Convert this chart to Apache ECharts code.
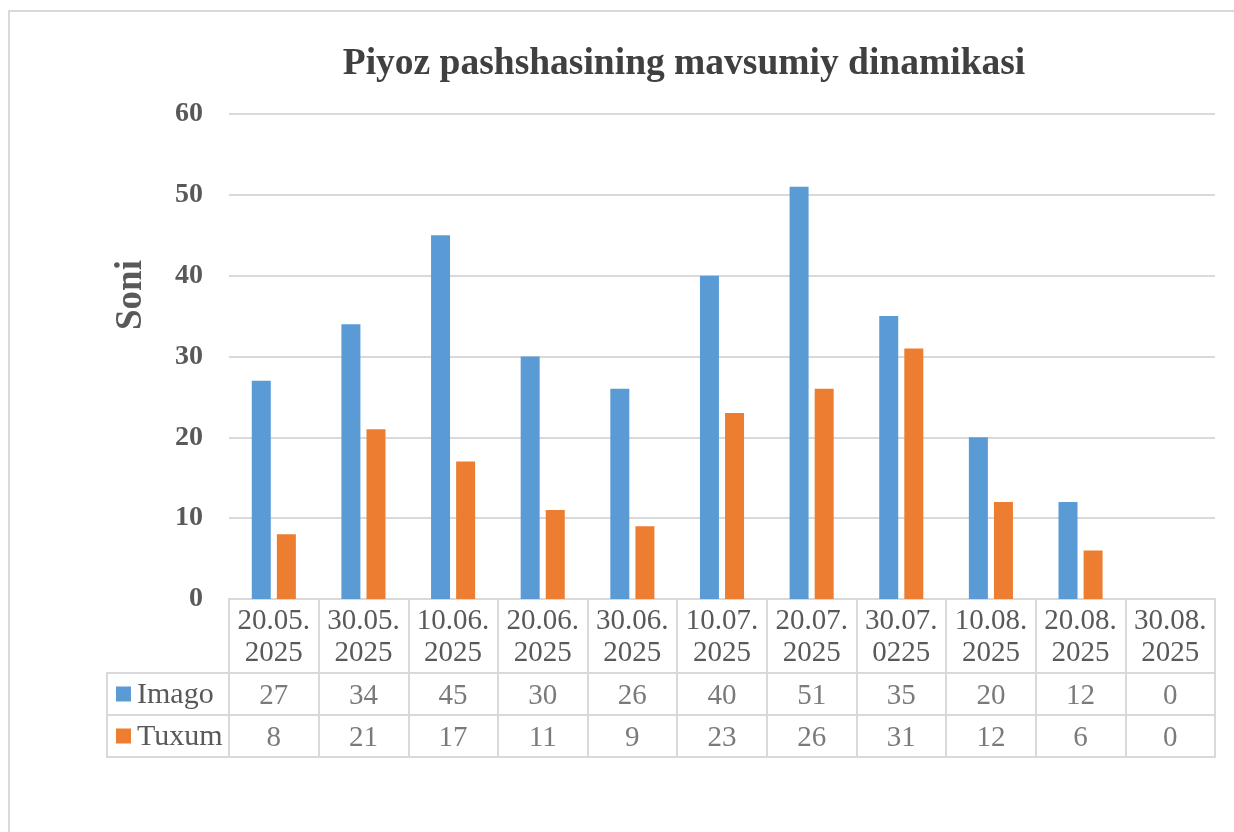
<!DOCTYPE html>
<html>
<head>
<meta charset="utf-8">
<script src="https://cdn.jsdelivr.net/npm/echarts@6/dist/echarts.min.js"></script>
<style>
  html, body { margin: 0; padding: 0; background: #fff; }
  #chart { width: 1234px; height: 832px; }
</style>
</head>
<body>
<div id="chart"></div>
<script>
// Sanalar (kategoriyalar)
const dates = [
  "20.05.\n2025", "30.05.\n2025", "10.06.\n2025", "20.06.\n2025", "30.06.\n2025",
  "10.07.\n2025", "20.07.\n2025", "30.07.\n0225", "10.08.\n2025", "20.08.\n2025", "30.08.\n2025"
];
const seriesNames = ["Imago", "Tuxum"];
const imago = [27, 34, 45, 30, 26, 40, 51, 35, 20, 12, 0];
const tuxum = [8, 21, 17, 11, 9, 23, 26, 31, 12, 6, 0];
const yTicks = [0, 10, 20, 30, 40, 50, 60];

const colors = ["#5b9bd5", "#ed7d31"];
const serif = "'Liberation Serif', 'DejaVu Serif', serif";
const lineColor = "#d9d9d9";
const textColor = "#595959";

const chart = echarts.init(document.getElementById("chart"));

// Jadval kataklari uchun nuqtalar
const tableCells = [];
imago.forEach((v, i) => tableCells.push([i, seriesNames[0], v]));
tuxum.forEach((v, i) => tableCells.push([i, seriesNames[1], v]));

const option = {
  animation: false,
  backgroundColor: "#fff",
  title: {
    text: "Piyoz pashshasining mavsumiy dinamikasi",
    left: 679,
    textAlign: "center",
    top: 40,
    textStyle: { fontFamily: serif, fontSize: 37.5, fontWeight: "bold", color: "#404040" }
  },
  graphic: [
    {
      type: "rect",
      shape: { x: 9, y: 11, width: 1260, height: 860 },
      style: { fill: "none", stroke: lineColor, lineWidth: 2 },
      silent: true
    },
    {
      // o'q nomi
      type: "text", x: 131, y: 295, rotation: Math.PI / 2,
      style: {
        text: "Soni", fontFamily: serif, fontSize: 37, fontWeight: "bold",
        fill: textColor, align: "center", verticalAlign: "middle"
      },
      silent: true
    }
  ],
  grid: [
    { left: 229, right: 19, top: 114, height: 485 },                 // asosiy grafik
    { left: 229, right: 19, top: 599, height: 74, show: true, borderColor: lineColor, borderWidth: 2 }, // sarlavha qatori
    { left: 229, right: 19, top: 673, height: 84, show: true, borderColor: lineColor, borderWidth: 2 }, // qiymatlar
    { left: 107, width: 122, top: 673, height: 84, show: true, borderColor: lineColor, borderWidth: 2 } // legenda ustuni
  ],
  xAxis: [
    {
      gridIndex: 0, type: "category", data: dates,
      axisLine: { show: false }, axisTick: { show: false }, axisLabel: { show: false }
    },
    {
      gridIndex: 1, type: "category", data: dates,
      axisLine: { show: false }, axisTick: { show: false },
      splitLine: { show: true, lineStyle: { color: lineColor, width: 2 } },
      axisLabel: {
        fontFamily: serif, fontSize: 29, color: textColor, lineHeight: 32,
        verticalAlign: "middle", margin: -36, interval: 0
      }
    },
    {
      gridIndex: 2, type: "category", data: dates,
      axisLine: { show: false }, axisTick: { show: false }, axisLabel: { show: false },
      splitLine: { show: true, lineStyle: { color: lineColor, width: 2 } }
    },
    {
      gridIndex: 3, type: "value", show: false
    }
  ],
  yAxis: [
    {
      gridIndex: 0, type: "value", min: 0, max: 60, interval: 10,
      axisLine: { show: false }, axisTick: { show: false },
      axisLabel: {
        fontFamily: serif, fontSize: 28, fontWeight: "bold", color: textColor, margin: 26,
        formatter: v => (yTicks.includes(v) ? String(v) : "")
      },
      splitLine: { lineStyle: { color: lineColor, width: 2 } }
    },
    { gridIndex: 1, type: "value", show: false },
    {
      gridIndex: 2, type: "category", data: seriesNames, inverse: true,
      axisLine: { show: false }, axisTick: { show: false }, axisLabel: { show: false },
      splitLine: { show: true, lineStyle: { color: lineColor, width: 2 } }
    },
    {
      gridIndex: 3, type: "category", data: seriesNames, inverse: true,
      axisLine: { show: false }, axisTick: { show: false },
      splitLine: { show: true, lineStyle: { color: lineColor, width: 2 } },
      axisLabel: {
        inside: true, margin: 9,
        formatter: (v, i) => "{s" + i + "|}{t|" + v + "}",
        rich: {
          s0: { width: 15, height: 15, backgroundColor: colors[0] },
          s1: { width: 15, height: 15, backgroundColor: colors[1] },
          t: { fontFamily: serif, fontSize: 30, color: textColor, padding: [2, 0, 0, 6] }
        }
      }
    }
  ],
  series: [
    {
      name: seriesNames[0], type: "bar", data: imago,
      xAxisIndex: 0, yAxisIndex: 0,
      barWidth: 19, barGap: "32%",
      itemStyle: { color: colors[0] }
    },
    {
      name: seriesNames[1], type: "bar", data: tuxum,
      xAxisIndex: 0, yAxisIndex: 0,
      barWidth: 19, barGap: "32%",
      itemStyle: { color: colors[1] }
    },
    {
      // jadvaldagi sonlar
      type: "scatter", data: tableCells,
      xAxisIndex: 2, yAxisIndex: 2,
      symbolSize: 0, silent: true,
      label: {
        show: true, position: "inside", offset: [0, 2],
        formatter: p => String(p.value[2]),
        fontFamily: serif, fontSize: 29, color: textColor
      }
    }
  ]
};

chart.setOption(option);
</script>
</body>
</html>
